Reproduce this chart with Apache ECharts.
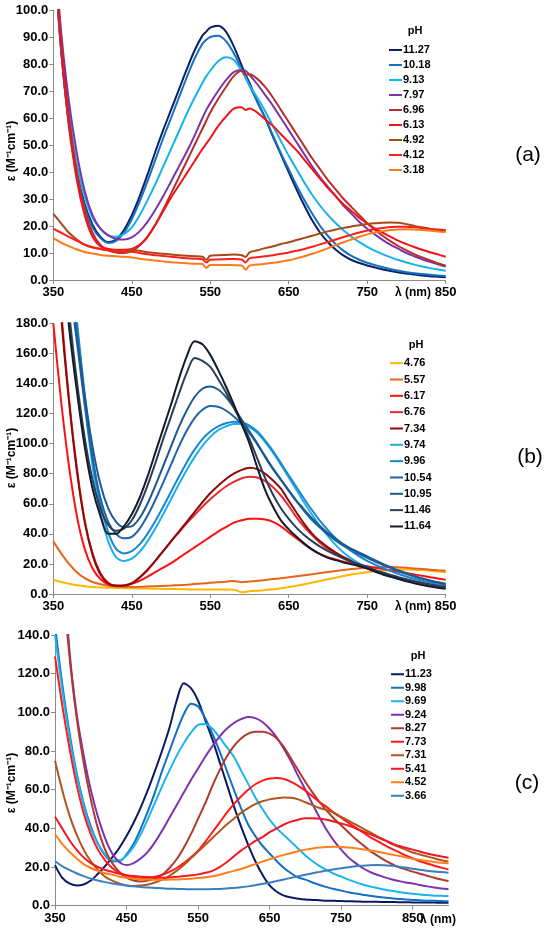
<!DOCTYPE html>
<html><head><meta charset="utf-8">
<script src="https://cdn.jsdelivr.net/npm/echarts@6/dist/echarts.min.js"></script>
<style>html,body{margin:0;padding:0;background:#fff}#c{width:550px;height:934px}</style>
</head><body><div id="c"></div>
<script>
// ---------- Panel (a) ----------
const wlA = [350,360,370,380,390,400,410,420,430,440,450,460,470,480,490,500,510,520,530,540,545,550,560,570,580,590,595,600,610,620,630,640,650,660,670,680,690,700,710,720,730,740,750,760,770,780,790,800,810,820,830,840,850];
const phA = ['11.27','10.18','9.13','7.97','6.96','6.13','4.92','4.12','3.18'];
const colA = ['#0B1F65','#1470C0','#17B2EC','#7B35A8','#B5302C','#F0141A','#A84A17','#FF1E1E','#FF7A1A'];
const a1127 = [125,85,58,40,28,20.5,16,14,15,18.5, 24,31,39,47.5,55.5,63,70.5,78,85,90.5, 92, 93.5,94.2,92,86.5,79.5, 76, 73,66,60,53,46.5,40,33.5,27.5,22,17.5,14,11.2,9,7.4,6.3,5.4,4.6,3.9,3.3,2.8,2.4,2,1.7,1.4,1.2,1];
const a1018 = [125,85,57,39,27,19.5,15.5,13.7,14.5,17.5, 22.5,29,36.5,44.5,52.5,60,67.5,75,82,87.5, 89, 90,90.5,88.5,84,78, 75, 72,66,60,53.5,47,41,35,29.5,24.5,20,16.3,13.2,10.8,8.9,7.5,6.4,5.5,4.7,4,3.4,2.9,2.5,2.2,1.9,1.7,1.5];
const a913 = [125,88,62,43,31,23,19,16.5,16,17, 19.5,24,29.5,35.5,42,48.5,55,61.5,67.5,73, 75.5, 77.5,81,82.5,81.5,77.5, 75, 72,67.5,62.5,57,51.5,46,41,36,31.5,27.5,24,21,18.3,16,14,12.3,10.8,9.5,8.4,7.4,6.5,5.7,5,4.4,3.9,3.4];
const a797 = [130,92,66,47,33,24,19,16.5,15.2,15, 15.8,18,21.5,26,31,36.5,42,47.5,53.5,60, 63, 65.5,70,74,77,77.8, 77.5, 76,72.5,68.5,64.5,60,55.5,51,46.5,42,38,34.5,31,27.5,24.5,21.5,19,16.8,14.8,13,11.5,10,8.8,7.7,6.7,5.8,5];
const a696 = [130,88,60,40,26,17.5,13,11,10.2,10, 10.8,12.8,16,20.5,26,32,38,44,50,56, 59, 62,67,71.5,75.5,77.5, 76, 76.2,74.5,71.5,67.5,63,58.5,54,49.5,45,41,37,33.5,30,27,24,21,18.5,16.3,14.3,12.5,11,9.6,8.4,7.3,6.2,5.3];
const a613 = [130,86,57,37,24,16,12.5,11.5,11.2,11.2, 11.5,13,16,20.5,25.5,30.5,35,39.5,44,48.5, 50.5, 52.5,57,60.5,63.5,64, 63, 63.5,62,59.5,57,54,51,48,44.5,41,37.5,34,31,28,25.5,23,21,19,17.5,16,14.5,13.3,12.2,11.2,10.3,9.5,8.6];
const a492 = [24.5,21,17.5,15,13,12,11.5,11,10.8,10.6, 11.2,10.8,10.3,10,9.7,9.4,9.2,9,8.8,8.6, 7.5, 9,9.2,9.3,9.4,9.2, 8.5, 10.2,11,11.8,12.5,13.3,14,14.8,15.6,16.4,17.2,18,18.7,19.3,19.8,20.3,20.7,21,21.2,21.3,21.2,20.7,20,19.5,19,18.7,18.5];
const a412 = [19,17.5,16,14.5,13.2,12.2,11.5,11,10.7,10.4, 10.5,10,9.5,9.2,8.9,8.6,8.3,8.1,7.9,7.7, 6.5, 7.5,7.6,7.7,7.8,7.6, 6.5, 8,8.4,8.8,9.2,9.7,10.2,10.8,11.5,12.3,13.2,14.1,15,15.9,16.8,17.6,18.3,18.9,19.3,19.6,19.7,19.7,19.5,19.2,18.8,18.5,18.2];
const a318 = [15.5,13.8,12.5,11.3,10.4,9.8,9.3,9,8.8,8.6, 8.3,7.9,7.5,7.2,6.9,6.6,6.4,6.2,6,5.9, 4.5, 5.6,5.6,5.6,5.5,5.4, 3.8, 5.3,5.7,6,6.4,6.8,7.3,8,8.8,9.7,10.7,11.8,12.9,14,15,16,16.9,17.6,18.1,18.5,18.7,18.8,18.7,18.5,18.3,18,17.8];
const valsA = [a1127,a1018,a913,a797,a696,a613,a492,a412,a318];
const ticksA = [0,10,20,30,40,50,60,70,80,90,100];

// ---------- Panel (b) ----------
const wlB = [350,360,370,380,390,400,410,420,430,440,450,460,470,480,490,500,510,520,530,540,550,560,570,580,590,600,610,620,630,640,650,660,670,680,690,700,710,720,730,740,750,760,770,780,790,800,810,820,830,840,850];
const phB = ['4.76','5.57','6.17','6.76','7.34','9.74','9.96','10.54','10.95','11.46','11.64'];
const colB = ['#FFB800','#E8641A','#FF1010','#E8282E','#8B0A0A','#1DB0EC','#1A86D0','#1F63AE','#1B5A8C','#2C3E55','#141C2A'];
const b476 = [9.5,8,6.8,5.8,5.2,4.7,4.4,4.2,4,3.9, 3.8,3.7,3.6,3.5,3.4,3.3,3.2,3.1,3,3, 3,3,3,2.9,1.2,1.8,2.2,2.6,3.1,3.8, 4.6,5.5,6.5,7.6,8.7,9.8,10.9,12,13,13.8, 14.5,15.1,15.6,16,16.2,16.3,16.2,15.9,15.5,15,14.5];
const b557 = [35,27,20,14.5,10.5,8,6.5,5.5,5,4.8, 4.7,4.8,5,5.2,5.4,5.6,5.9,6.2,6.6,7, 7.4,7.8,8.2,8.7,7.8,8.3,8.8,9.3,9.9,10.5, 11.1,11.8,12.5,13.2,13.9,14.6,15.3,16,16.6,17.1, 17.5,17.8,17.9,17.9,17.7,17.4,17,16.6,16.2,15.8,15.5];
const b617 = [180,128,85,52,30,17,10,6.5,5.5,5.7, 6.8,8.8,11.5,14.5,17.5,20.5,24,27.5,31,34.5, 38,41.5,44.5,47.5,49,50,50,49.5,48,45, 41,37,33,29.5,26.5,24.5,23,21.5,20.3,19.3, 18.4,17.5,16.6,15.7,14.8,13.9,13,12.1,11.2,10.3,9.5];
const b676 = [270,190,130,84,49,27,14,7.5,5.5,5.7, 7.2,11,16,22,28.5,35,41,47,52.5,58, 63,67.5,71.5,74.5,77,78,77.5,75,71,65.5, 58.5,51,44.5,39,34,30,26.7,23.8,21.3,19, 17,15.2,13.6,12.1,10.8,9.6,8.5,7.5,6.6,5.8,5.1];
const b734 = [260,185,128,82,48,26,13,7,5.5,5.5, 7,11,16,22,28.5,35,41.5,48,54.5,61, 67,72,76.5,80,82.5,84,83,80,75.5,70, 62,54,46.5,40,35,31,27.5,24.5,22,19.5, 17,15,13.3,11.7,10.3,9,7.8,6.8,6,5.2,4.5];
const b974 = [330,280,228,178,127,85,54,35,24.5,22, 23.5,28,35,43.5,53,63,73,82.5,91,98.5, 104.5,109,111.5,113,113,111,107,101,94,86, 77.5,69,60.5,52.5,45,38.5,32.5,27.5,23.5,20.2, 17.5,15.2,13.2,11.5,10,8.8,7.8,6.9,6.1,5.4,4.8];
const b996 = [330,280,230,182,133,92,60,41,30,27, 28.5,33,40,48.5,58,68,78,87.5,96,103, 108,111.5,113.5,114.5,114,112,108,102,95,87, 79,71,63,55.5,48.5,42.5,37,32.5,28.5,25, 22,19.5,17.2,15.2,13.3,11.6,10.1,8.8,7.7,6.7,5.8];
const b1054 = [320,265,210,168,126,90,64,48,40,37, 38,43.5,52,62.5,74,86,98,108.5,117,122.5, 125,124.5,122,118,113,107,99.5,91.5,83.5,76, 68.5,61.5,55,49,44,39.5,35.5,32,29,26.5, 24,21.5,19.3,17.2,15.2,13.3,11.6,10.1,8.8,7.6,6.5];
const b1095 = [320,270,215,172,132,98,73,57,48,44.5, 45,50.5,60,72,85,98,111,122,131,136.5, 138,136,131,124,116,108,100,91,83,76, 69,62,56,50,45,40.5,36.5,33,30,27.5, 25,22.5,20,17.8,15.7,13.7,12,10.4,9,7.8,6.8];
const b1146 = [300,245,188,142,104,76,57,46,42,43.5, 49,59,72,87,103,118,133,147,157,155, 151,143,134,124,114,103,90,77,66,57, 50,44,39,35,31.5,28.5,26,23.5,21.5,19.8, 18,16,14.3,12.7,11.2,9.8,8.5,7.3,6.3,5.4,4.6];
const b1164 = [300,235,178,135,98,70,52,40,40,45, 53,64,78,94,110,126,143,158,168,166, 159,149,138,126,113,100,84,69,58,49, 43,38,33.5,29.5,26.5,24,22.5,21,19.8,18.5, 17,15,13,11.5,10,8.5,7.2,6,5,4.2,3.5];
const valsB = [b476,b557,b617,b676,b734,b974,b996,b1054,b1095,b1146,b1164];

// ---------- Panel (c) ----------
const wlC = [350,360,370,380,390,400,410,420,430,440,450,460,470,480,490,500,510,520,530,540,550,560,570,580,590,600,610,620,630,640,650,660,670,680,690,700,710,720,730,740,750,760,770,780,790,800,810,820,830,840,850,860,870,880,890,900];
const phC = ['11.23','9.98','9.69','9.24','8.27','7.73','7.31','5.41','4.52','3.66'];
const colC = ['#0A1A60','#1470C0','#1AB4EE','#7D32B0','#AE3A2E','#FF1A1A','#B0561A','#F01822','#FF7F1A','#3A7EC0'];
const c1123 = [21,14.5,11.5,10.5,11,13,16.5,20.5,25,30, 36,43,51,60,70,80.5,92,106,115,112.5, 106,96,86,74.5,63,51.5,41,31.5,23,16, 10.5,7.2,5.2,4.2,3.6,3.2,3,2.8,2.6,2.5, 2.4,2.3,2.2,2.1,2,2,1.9,1.9,1.8,1.8, 1.7,1.7,1.6,1.6,1.5,1.5];
const c998 = [145,115,90,69,53,41,32,26,23,23, 26.5,32,40,49,59,70,80,90,99,104.5, 103,97,89,80,70,60,50.5,42,36,31, 27,23,19.5,16.8,14.5,13.5,12,10.7,9.6,8.6, 7.8,7,6.3,5.7,5.1,4.6,4.2,3.8,3.5,3.2, 3,2.8,2.6,2.5,2.4,2.3];
const c969 = [140,112,88,68,52,40,32,26.5,23.5,23.5, 26,30.5,37,45,53.5,62,70,77.5,84,89.5, 93.5,94,91.5,87,82,77,70,63,56,50, 44.5,40,36.5,33,29.5,26,23,20.5,18.4,16.5, 15,13.5,12.2,11,10,9.2,8.4,7.7,7.1,6.6, 6.2,5.8,5.5,5.2,5.1,5];
const c924 = [300,190,133,100,78,60,46,35,27,22.5, 21,22,24.5,28,33,39,45.5,52,58.5,65, 71,77,82.5,87.5,91.5,94.5,96.5,97.6,97,95, 91.5,87,81,74.5,67,60,52.5,45.5,39,33.5, 29,25,22,19.5,17.5,16,14.8,13.7,12.8,12, 11.5,10.7,10,9.4,8.9,8.5];
const c827 = [300,175,130,98,74,55,40,29,22,17.5, 14.5,13,12.5,13,14,16,19.5,24,30,37, 45,53,62,70,77,82.5,86.5,89,90,90, 89,86.5,82,76,70,64,58.5,53.5,49,45, 41.5,38,34.5,31.5,28.5,26,23.7,21.7,20,18.8, 17.6,16.5,15.5,14.5,13.6,12.8];
const c773 = [129,104,82,63,48,37,29,23.5,19.5,17, 15.5,14.5,14.2,14.3,15,16,17.5,19.5,22,25, 28.5,33,38,43,48,52.5,56.5,60,62.8,64.7, 65.8,66,65.5,64,62,59.5,56.5,53.5,51,48, 45.5,43,40.5,38,35.5,33.5,31.5,29.5,27.8,26, 24.5,23,21.8,20.7,19.7,18.8];
const c731 = [75,60,47,37,29,23,18.5,15,13,11.5, 10.5,10.2,10.5,11,12,13.5,15.5,18,21,24.5, 28,31.5,35,38.5,42,45,48,50.5,52.5,54, 55,55.6,55.9,55.8,55,53.5,52,50.5,49.5,48, 46,44,42,40,38,36,34,32,30.5,29, 27.5,26.5,25.5,24.5,23.5,22.8];
const c541 = [46,40,34,29,25,22,20,18.5,17.5,16.5, 15.8,15.3,15,14.8,14.6,14.5,14.6,15,15.3,15.7, 16.2,17,18,20,22.5,25.5,28.5,31,33.5,35.5, 38,40,42,43.5,44.5,45.2,45.2,45,44.5,43.5, 42.5,41.5,40,38.5,37,35.5,34,32.5,31,30, 29,28,27,26.2,25.5,24.8];
const c452 = [37,32,28,24.5,21.5,19.5,18,16.8,16,15, 14.4,14,13.7,13.5,13.4,13.4,13.5,13.6,13.8,14, 14.3,14.7,15.2,16,17,18,19,20.3,21.5,22.8, 24,25.2,26.3,27.3,28.2,29,29.6,30.1,30.4,30.5, 30.4,30.1,29.7,29.2,28.6,28,27.3,26.5,25.8,25, 24.3,23.7,23.1,22.6,22.2,21.9];
const c366 = [23,20.5,18.5,16.8,15.3,14,13,12.2,11.5,11, 10.5,10,9.7,9.4,9.2,9,8.8,8.7,8.6,8.5, 8.5,8.5,8.6,8.7,8.9,9.2,9.5,10,10.6,11.3, 12,12.8,13.6,14.4,15.2,16,16.8,17.5,18.2,18.8, 19.4,19.9,20.4,20.7,20.9,21,20.9,20.6,20.2,19.7, 19.1,18.6,18.1,17.7,17.4,17.1];
const valsC = [c1123,c998,c969,c924,c827,c773,c731,c541,c452,c366];
const xTickValues = [350,450,550,650,750,850];

// ---------- Build ----------
const FONT = "'Liberation Sans', Arial, Helvetica, sans-serif";
const AX = '#8a8a8a';
const panels = [
  {wl: wlA, names: phA, cols: colA, vals: valsA, ymax: 100, yint: 10, xmax: 850,
   grid: {left: 53.3, top: 10, width: 392.4, height: 270}, legendTop: 42.5, lh: 15, legendLeft: 389},
  {wl: wlB, names: phB, cols: colB, vals: valsB, ymax: 180, yint: 20, xmax: 850,
   grid: {left: 53.3, top: 323.3, width: 392.4, height: 270.7}, legendTop: 355, lh: 16.33, legendLeft: 390},
  {wl: wlC, names: phC, cols: colC, vals: valsC, ymax: 140, yint: 20, xmax: 900,
   grid: {left: 55, top: 635, width: 393.5, height: 270.7}, legendTop: 667.5, lh: 13.5, legendLeft: 391}
];

const grids = [], xAxes = [], yAxes = [], series = [], legends = [];
panels.forEach((p, gi) => {
  grids.push(p.grid);
  xAxes.push({
    type: 'value', gridIndex: gi, min: 350, max: p.xmax, interval: 100,
    axisLine: {show: true, lineStyle: {color: AX, width: 1}},
    axisTick: {show: true, length: 4, inside: false, customValues: xTickValues, lineStyle: {color: AX}},
    axisLabel: {color: '#000', fontWeight: 'bold', fontSize: 13, fontFamily: FONT, margin: 6,
      customValues: xTickValues,
      formatter: v => (v > 850 ? '' : String(v))},
    splitLine: {show: false}
  });
  yAxes.push({
    type: 'value', gridIndex: gi, min: 0, max: p.ymax, interval: p.yint,
    axisLine: {show: true, lineStyle: {color: AX, width: 1}},
    axisTick: {show: true, length: 4, inside: false, lineStyle: {color: AX}},
    axisLabel: {color: '#000', fontWeight: 'bold', fontSize: 13, fontFamily: FONT, margin: 5,
      formatter: v => v.toFixed(1)},
    splitLine: {show: false}
  });
  p.names.forEach((nm, k) => {
    series.push({
      type: 'line', name: nm, xAxisIndex: gi, yAxisIndex: gi,
      data: p.wl.map((w, i) => [w, p.vals[k][i]]),
      showSymbol: false, symbol: 'none', smooth: 0.3, clip: true,
      lineStyle: {width: 2, color: p.cols[k]}, itemStyle: {color: p.cols[k]},
      emphasis: {disabled: true}, silent: true, z: 2
    });
  });
  legends.push({
    orient: 'vertical', left: p.legendLeft, top: p.legendTop, padding: 0, itemGap: 0,
    itemWidth: 13, itemHeight: 2, icon: 'rect', selectedMode: false,
    data: p.names,
    textStyle: {fontSize: 11, fontWeight: 'bold', color: '#000', fontFamily: FONT, lineHeight: p.lh, padding: [0, 0, 0, -4]}
  });
});

function txt(x, y, s, font, rot) {
  return {type: 'text', x: x, y: y, rotation: rot || 0, silent: true,
    style: {text: s, font: font, fill: '#000', textAlign: 'center', textVerticalAlign: 'middle', align: 'center', verticalAlign: 'middle'}};
}
const bold11 = "bold 11px " + FONT;
const bold12 = "bold 12px " + FONT;
const big = "21px " + FONT;
const yTitle = 'ε (M⁻¹cm⁻¹)';
const graphics = [
  txt(415, 31, 'pH', bold11), txt(416, 345, 'pH', bold11), txt(418, 656, 'pH', bold11),
  txt(528, 155, '(a)', big), txt(530, 457, '(b)', big), txt(527, 783, '(c)', big),
  txt(413, 293, 'λ (nm)', bold12), txt(413, 607, 'λ (nm)', bold12), txt(438, 920, 'λ (nm)', bold12),
  txt(12, 151, yTitle, bold12, Math.PI / 2), txt(12, 458, yTitle, bold12, Math.PI / 2), txt(12, 783, yTitle, bold12, Math.PI / 2)
];

const chart = echarts.init(document.getElementById('c'), null, {renderer: 'canvas'});
chart.setOption({
  animation: false,
  backgroundColor: '#fff',
  grid: grids, xAxis: xAxes, yAxis: yAxes, series: series, legend: legends,
  graphic: graphics
});
</script>
</body></html>
